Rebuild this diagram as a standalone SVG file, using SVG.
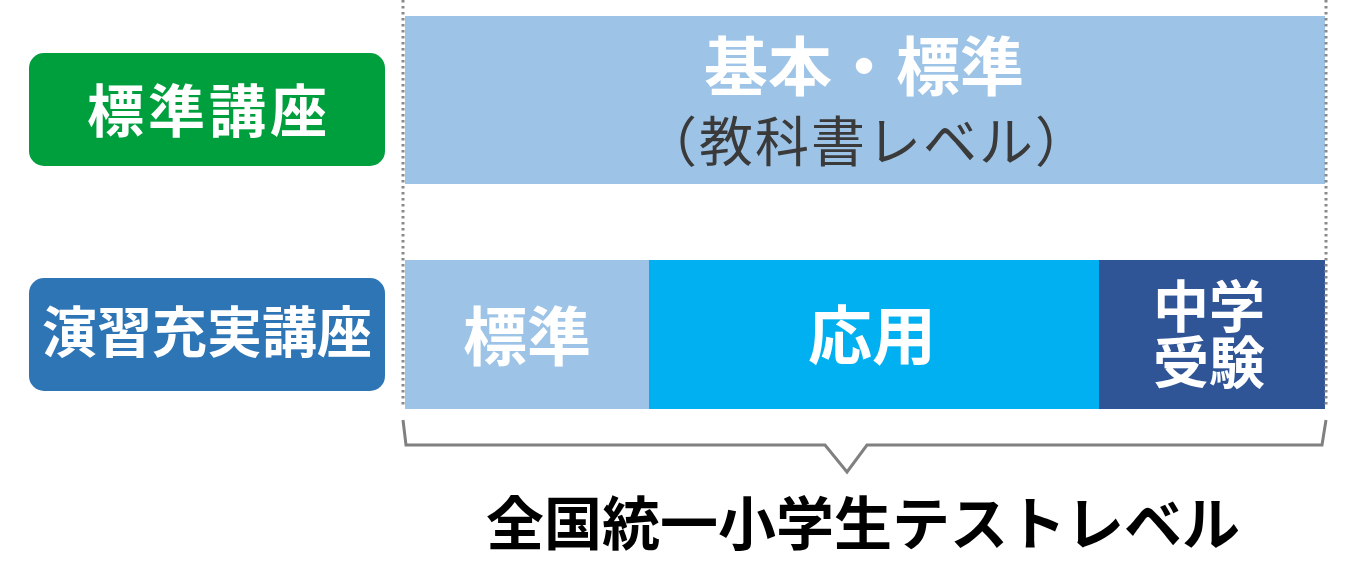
<svg xmlns="http://www.w3.org/2000/svg" width="1360" height="567" viewBox="0 0 1360 567">
<style>
.t{font-family:"Noto Sans CJK JP","Noto Sans CJK SC",sans-serif;text-anchor:middle}
.w{fill:#ffffff;font-weight:700}
.dot{stroke:#8a8a8a;stroke-width:3;stroke-dasharray:2.5 3.5;fill:none}
</style>
<rect width="1360" height="567" fill="#ffffff"/>
<g id="label-standard">
<rect x="29" y="53" width="356" height="113" rx="15" fill="#009F3E"/>
<text class="t w" x="209" y="132" font-size="57" letter-spacing="4">標準講座</text>
</g>
<g id="label-practice">
<rect x="29" y="278" width="356" height="113" rx="15" fill="#2E75B6"/>
<text class="t w" x="207" y="352" font-size="55">演習充実講座</text>
</g>
<g id="bar-basic">
<rect x="405" y="16" width="920" height="168" fill="#9DC3E6"/>
<text class="t w" x="864" y="90" font-size="64">基本・標準</text>
<text class="t" x="867" y="162" font-size="54" letter-spacing="2" fill="#3a3a3a">（教科書レベル）</text>
</g>
<g id="bar-standard">
<rect x="405" y="260" width="244" height="149" fill="#9DC3E6"/>
<text class="t w" x="527" y="360" font-size="64">標準</text>
</g>
<g id="bar-applied">
<rect x="649" y="260" width="450" height="149" fill="#00B0F0"/>
<text class="t w" x="872" y="359" font-size="64">応用</text>
</g>
<g id="bar-exam">
<rect x="1099" y="260" width="226" height="149" fill="#2F5597"/>
<text class="t w" x="1209" y="327" font-size="56">中学</text>
<text class="t w" x="1209" y="383" font-size="56">受験</text>
</g>
<g id="connectors">
<line class="dot" x1="403" y1="0" x2="403" y2="408"/>
<line class="dot" x1="1326" y1="0" x2="1326" y2="408"/>
<polyline points="403,420 406,445 825,445 847,472 867,445 1322,445 1326,420" fill="none" stroke="#808080" stroke-width="3" stroke-linejoin="miter"/>
</g>
<g id="caption">
<text class="t" x="863" y="545" font-size="58" font-weight="700" fill="#000000">全国統一小学生テストレベル</text>
</g>
</svg>
